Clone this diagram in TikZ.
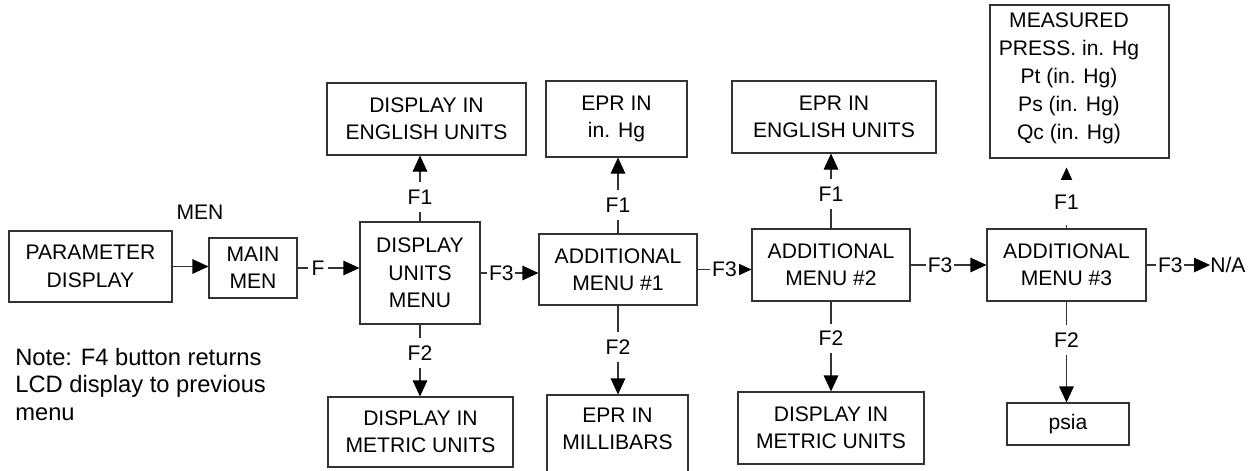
\documentclass[tikz,border=0pt]{standalone}
\usepackage{fontspec}
\setmainfont{Liberation Sans}
\usetikzlibrary{arrows.meta}

\begin{document}
\begin{tikzpicture}[
  every node/.style={font=\fontsize{12}{15.6}\selectfont},
  box/.style={draw=black!80, line width=0.6pt, align=center, inner sep=0pt},
  key/.style={fill=white, inner xsep=1pt, inner ysep=0.15cm},
  arr/.style={draw=black!80, line width=0.6pt, -{Triangle[length=0.32cm,width=0.29cm,black]}}
]
\useasboundingbox (0,0) rectangle (25.1,9.4);

%main row
\node[box, minimum width=3.26cm, minimum height=1.42cm] (param) at (1.81,4.07) {PARAMETER\\DISPLAY};
\node (menlbl) at (4.00,5.16) {MEN};
\node[box, minimum width=1.76cm, minimum height=1.2cm] (mainmen) at (5.06,4.04) {MAIN\\MEN};
\node[box, minimum width=2.40cm, minimum height=2.04cm] (dum) at (8.40,3.94) {DISPLAY\\UNITS\\MENU};
\node[box, minimum width=3.16cm, minimum height=1.42cm] (am1) at (12.36,4.01) {ADDITIONAL\\MENU \#1};
\node[box, minimum width=3.16cm, minimum height=1.44cm] (am2) at (16.62,4.10) {ADDITIONAL\\MENU \#2};
\node[box, minimum width=3.18cm, minimum height=1.44cm] (am3) at (21.33,4.10) {ADDITIONAL\\MENU \#3};
\node[anchor=west, inner sep=0pt] (na) at (24.20,4.10) {N/A};

%top row
\node[box, minimum width=3.98cm, minimum height=1.44cm] (deng) at (8.53,7.02) {DISPLAY IN\\ENGLISH UNITS};
\node[box, minimum width=2.82cm, minimum height=1.52cm] (eprhg) at (12.33,7.02) {EPR IN\\in. Hg};
\node[box, minimum width=4.08cm, minimum height=1.44cm] (epreng) at (16.68,7.06) {EPR IN\\ENGLISH UNITS};
\node[box, minimum width=3.58cm, minimum height=3.06cm] (meas) at (21.59,7.77) {};
\node[align=center, inner sep=0pt, font=\fontsize{12}{15.9}\selectfont] (meastxt) at (21.38,7.84) {MEASURED\\PRESS. in. Hg\\Pt (in. Hg)\\Ps (in. Hg)\\Qc (in. Hg)};

%bottom row
\node[box, minimum width=3.70cm, minimum height=1.40cm] (dim1) at (8.41,0.76) {DISPLAY IN\\METRIC UNITS};
\node[box, minimum width=2.82cm, minimum height=1.80cm] (mbar) at (12.35,0.60) {};
\node[align=center, inner sep=0pt] (mbartxt) at (12.35,0.82) {EPR IN\\MILLIBARS};
\node[box, minimum width=3.72cm, minimum height=1.44cm] (dim2) at (16.62,0.84) {DISPLAY IN\\METRIC UNITS};
\node[box, minimum width=2.44cm, minimum height=0.84cm] (psia) at (21.36,0.92) {psia};
\node[anchor=west, align=left, inner sep=0pt, font=\fontsize{13.5}{15.6}\selectfont] (note) at (0.30,1.71) {Note: F4 button returns\\LCD display to previous\\menu};

\draw[arr] (param.east) -- (param.east -| mainmen.west);
\draw[arr] (mainmen.east) -- node[key, pos=0.33, inner xsep=2pt] {F} (mainmen.east -| dum.west);
\draw[arr] (dum.east) -- node[key, pos=0.36] {F3} (dum.east -| am1.west);
\draw[arr] (am1.east) -- node[key, pos=0.5] {F3} (am1.east -| am2.west);
\draw[arr] (am2) -- node[key, pos=0.39] {F3} (am3);
\draw[arr] (am3) -- node[key, pos=0.375] {F3} (na);

\draw[arr] (dum.north) -- node[key, pos=0.37] {F1} (dum.north |- deng.south);
\draw[arr] (am1.north) -- node[key, pos=0.377] {F1} (am1.north |- eprhg.south);
\draw[arr] (am2.north) -- node[key, pos=0.46] {F1} (am2.north |- epreng.south);
\draw[arr, shorten >=0.18cm] (am3.north) -- node[key, pos=0.37, inner ysep=0.3cm] {F1} (am3.north |- meas.south);

\draw[arr] (dum.south) -- node[key, pos=0.40] {F2} (dum.south |- dim1.north);
\draw[arr] (am1.south) -- node[key, pos=0.47] {F2} (am1.south |- mbar.north);
\draw[arr] (am2.south) -- node[key, pos=0.41] {F2} (am2.south |- dim2.north);
\draw[arr] (am3.south) -- node[key, pos=0.38] {F2} (am3.south |- psia.north);
\end{tikzpicture}
\end{document}
